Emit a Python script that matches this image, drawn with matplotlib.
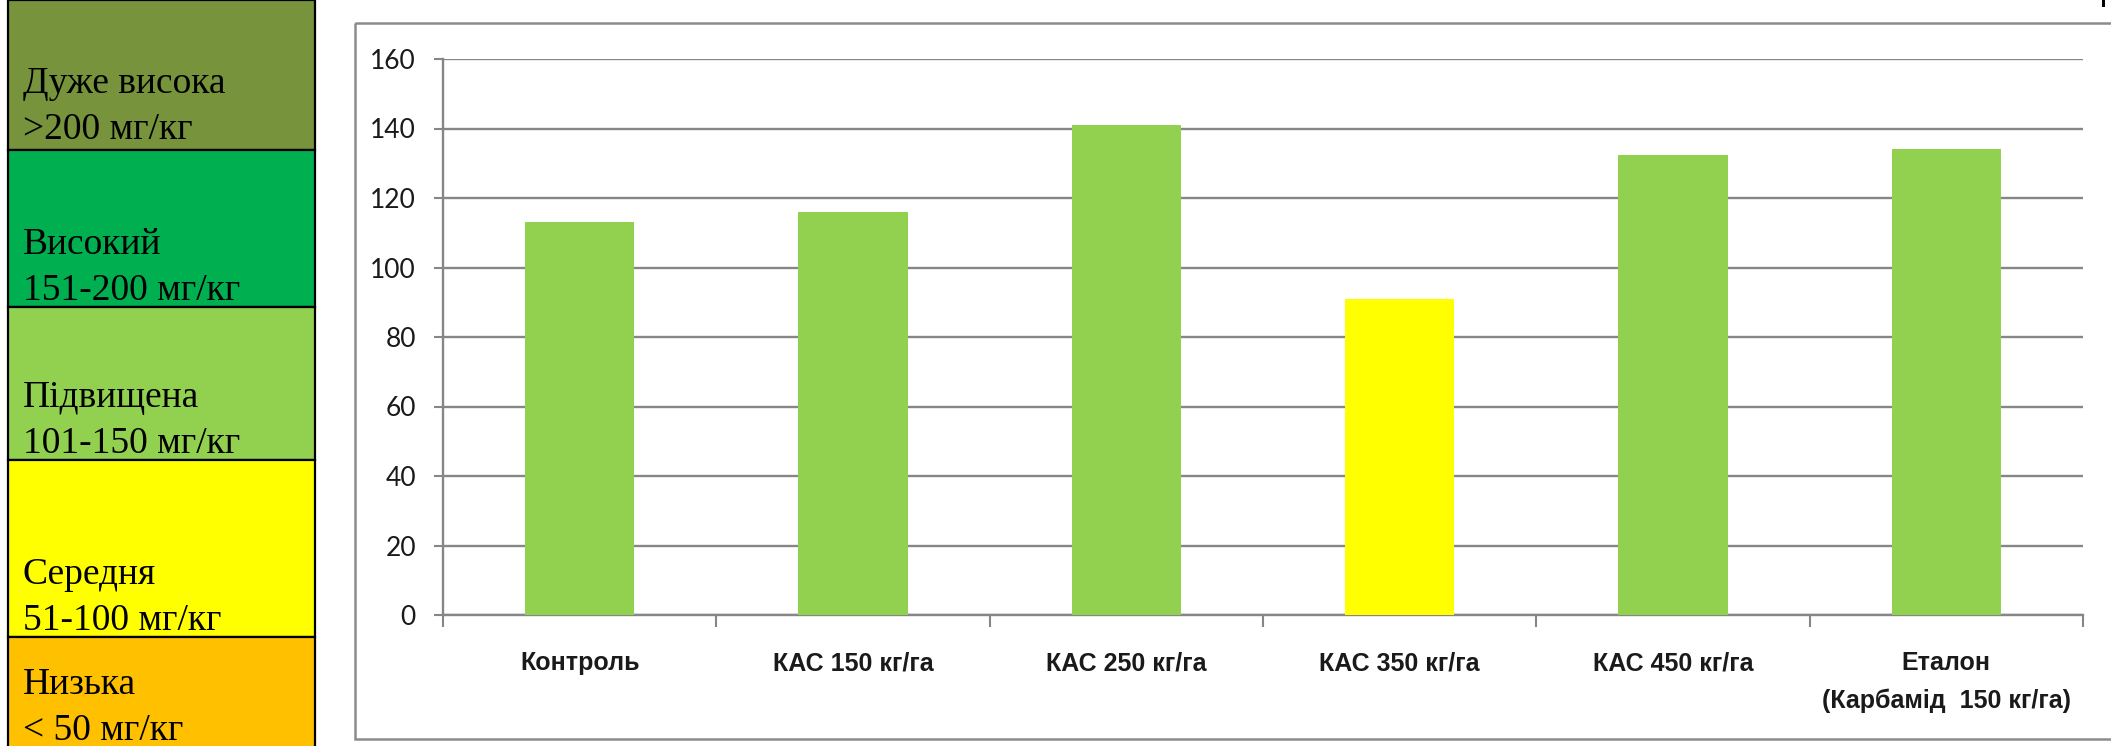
import matplotlib
matplotlib.use('Agg')
import matplotlib.pyplot as plt
from matplotlib.patches import Rectangle

# Chart data
categories = ['Контроль', 'КАС 150 кг/га', 'КАС 250 кг/га', 'КАС 350 кг/га',
              'КАС 450 кг/га', 'Еталон\n(Карбамід  150 кг/га)']
values = [113, 116, 141, 91, 132.5, 134]
bar_colors = ['#92D050', '#92D050', '#92D050', '#FFFF00', '#92D050', '#92D050']

# Legend scale on the left
levels = ['Дуже висока', 'Високий', 'Підвищена', 'Середня', 'Низька']
ranges = ['>200 мг/кг', '151-200 мг/кг', '101-150 мг/кг', '51-100 мг/кг', '< 50 мг/кг']
level_colors = ['#77933C', '#00B050', '#92D050', '#FFFF00', '#FFC000']

W, H = 2111, 746
GRID = '#868686'

fig = plt.figure(figsize=(W / 100, H / 100), dpi=100)
fig.patch.set_facecolor('white')

# background layer in pixel coordinates (legend column + chart frame)
bg = fig.add_axes([0, 0, 1, 1], zorder=0)
bg.set_xlim(0, W)
bg.set_ylim(H, 0)
bg.axis('off')

edges = [0, 150, 307, 460, 637, 749]
line1_y = [84, 245, 398, 575, 685]
for i, (lvl, rng, col) in enumerate(zip(levels, ranges, level_colors)):
    top, bot = edges[i], edges[i + 1]
    bg.add_patch(Rectangle((8, top), 307, bot - top, facecolor=col,
                           edgecolor='black', linewidth=1.6))
    bg.text(23, line1_y[i], lvl, fontsize=27, family='Liberation Serif',
            va='center', ha='left', color='black')
    bg.text(23, line1_y[i] + 46, rng, fontsize=27, family='Liberation Serif',
            va='center', ha='left', color='black')

# chart area frame (runs off the right edge as in the original)
bg.add_patch(Rectangle((355, 23), 1800, 716, facecolor='none',
                       edgecolor='#8c8c8c', linewidth=1.8))
# small mark at the top right corner
bg.add_patch(Rectangle((2102, 0), 2.5, 7, facecolor='black', edgecolor='none'))

# bar chart
ax = fig.add_axes([443 / W, 1 - 615 / H, (2083 - 443) / W, (615 - 59) / H], zorder=1)
ax.patch.set_alpha(0)
x = list(range(len(categories)))
ax.bar(x, values, width=0.4, color=bar_colors, edgecolor='none', zorder=3)

ax.set_xlim(-0.5, len(categories) - 0.5)
ax.set_ylim(0, 160)
ax.set_yticks(range(0, 161, 20))
ax.yaxis.grid(True, color=GRID, linewidth=1.7)
ax.set_axisbelow(True)

for s in ['top', 'right']:
    ax.spines[s].set_visible(False)
for s in ['left', 'bottom']:
    ax.spines[s].set_color(GRID)
    ax.spines[s].set_linewidth(1.7)

ax.set_xticks(x)
ax.set_xticklabels(categories, fontsize=18, fontweight='bold',
                   family='Liberation Sans', linespacing=1.7, color='#1a1a1a')
ax.set_xticks([i - 0.5 for i in range(len(categories) + 1)], minor=True)
ax.tick_params(axis='x', which='major', length=0, pad=26)
ax.tick_params(axis='x', which='minor', length=8.5, width=1.5, color=GRID)
ax.tick_params(axis='y', length=6.5, width=1.5, color=GRID, pad=13,
               labelsize=19, labelcolor='#1a1a1a')
for lab in ax.get_yticklabels():
    lab.set_family(['Lato', 'Open Sans'])

plt.savefig('out.png', dpi=100)
